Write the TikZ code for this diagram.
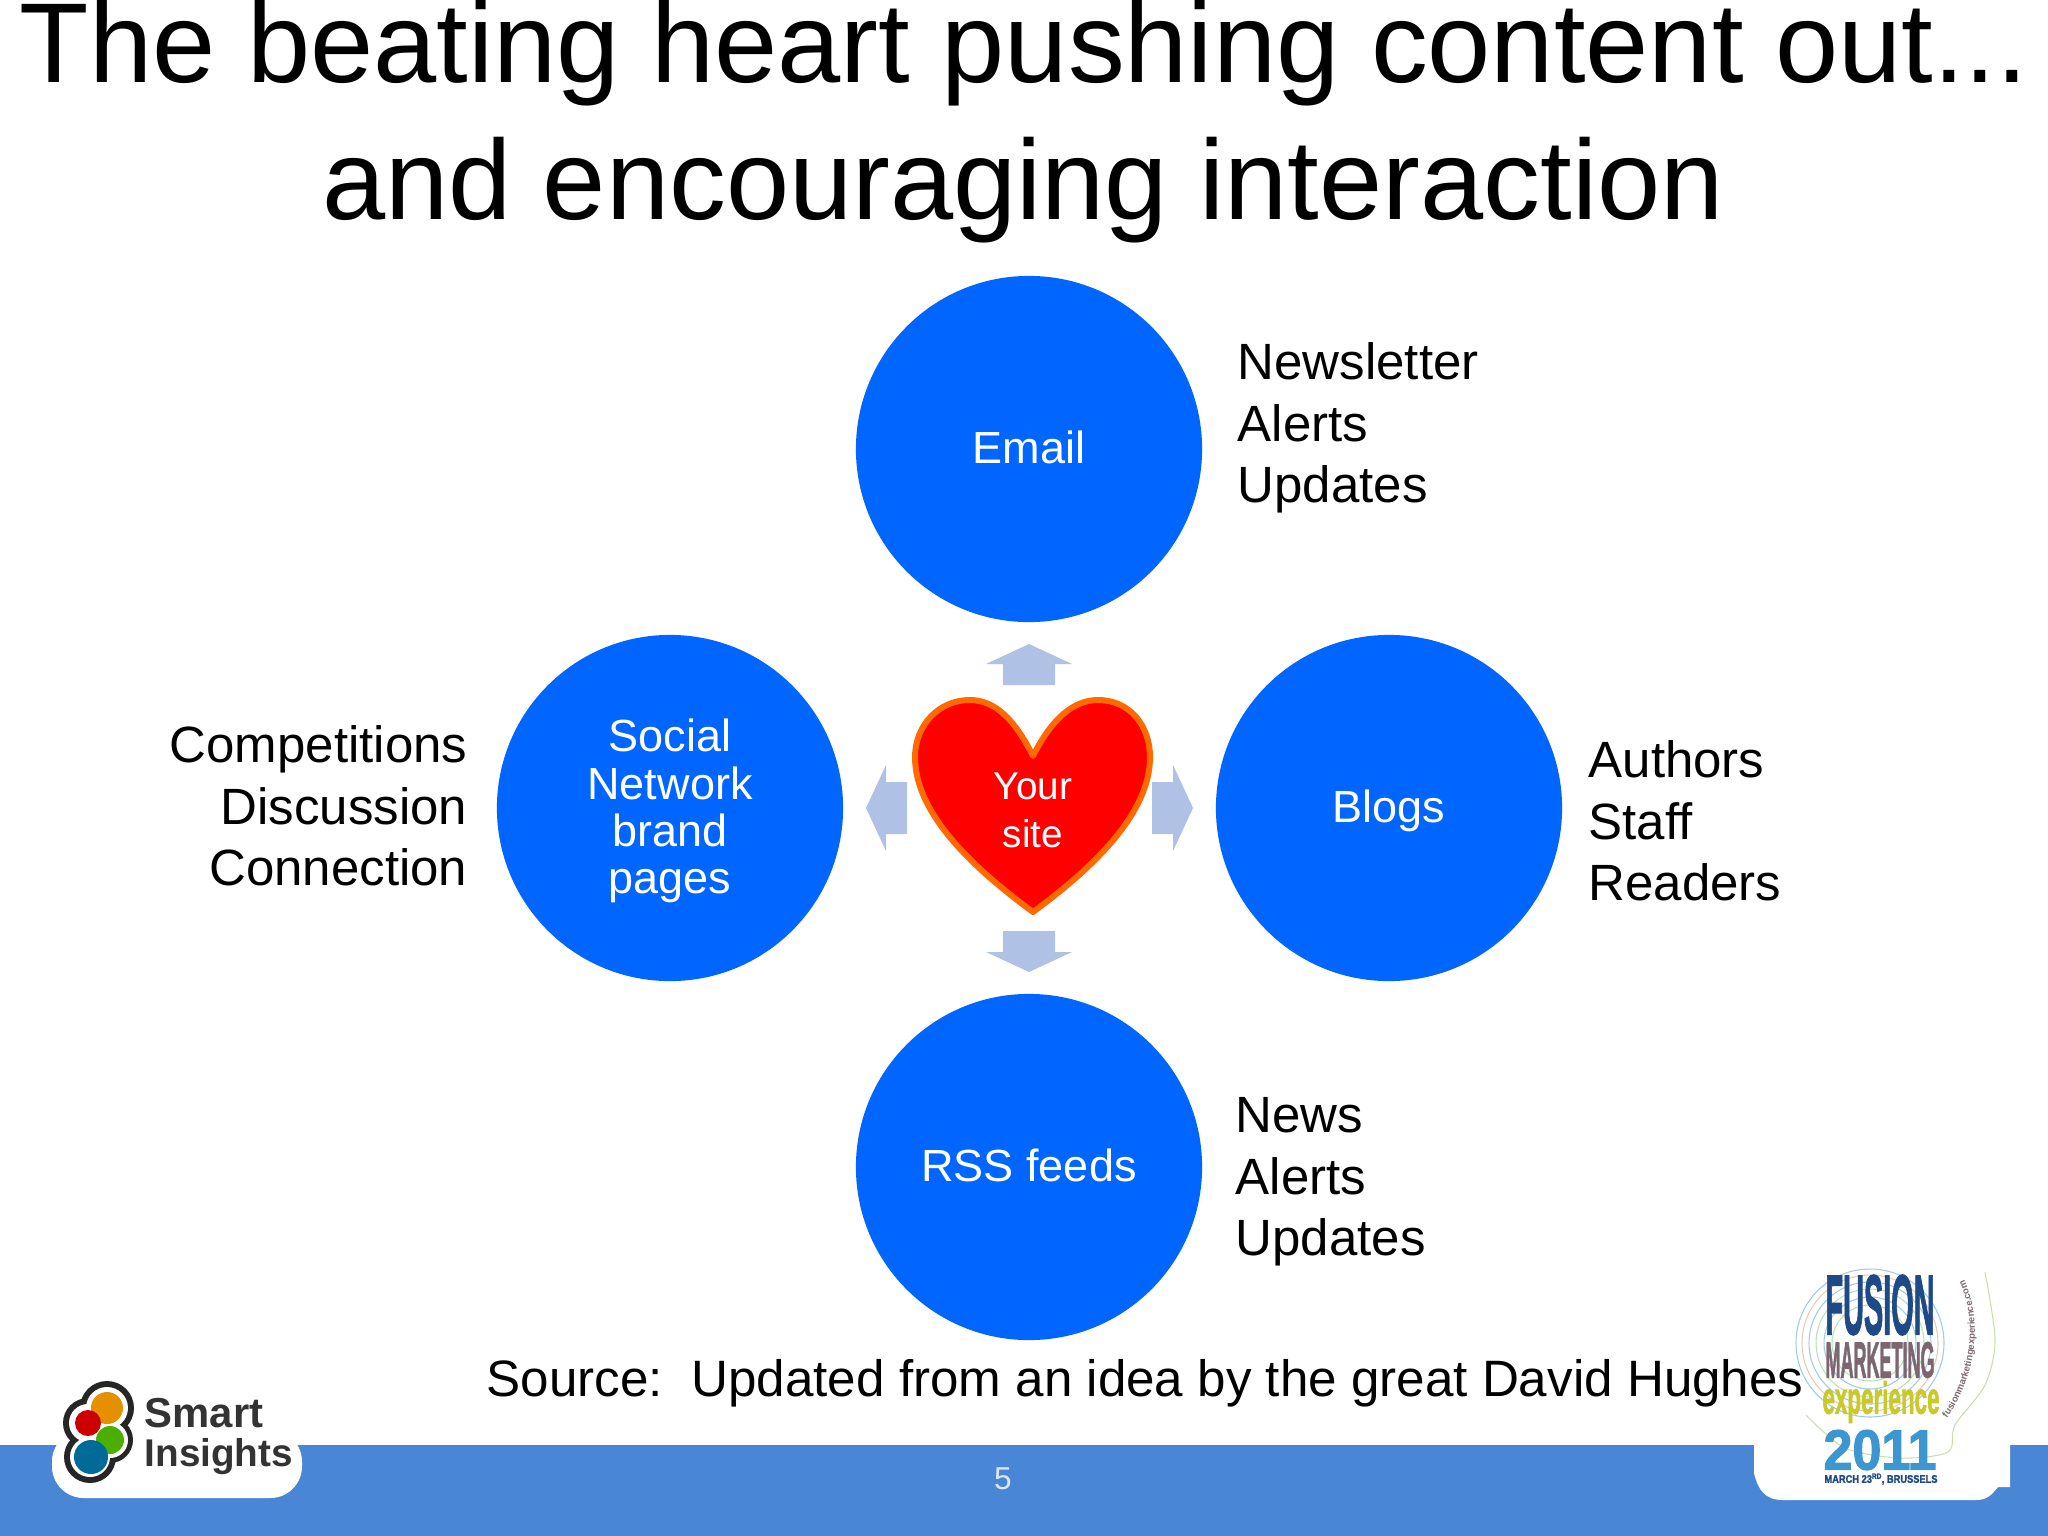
\documentclass[tikz,border=0pt]{standalone}
\usepackage{fontspec}
\setmainfont{Liberation Sans}
\newfontfamily\fusionfont[FakeBold=2]{Liberation Sans Bold}
\usetikzlibrary{decorations.text}
\definecolor{bubbleblue}{HTML}{0066FF}
\definecolor{barblue}{HTML}{4A86D6}
\definecolor{pushblue}{HTML}{B0C1E6}
\definecolor{heartline}{HTML}{FF6A00}
\definecolor{fusionnavy}{HTML}{1F4A86}
\definecolor{fusionmauve}{HTML}{7C6670}
\definecolor{fusionyellow}{HTML}{C9C92A}
\definecolor{fusionsky}{HTML}{3C97D0}
\tikzset{
  bubble/.style={circle, fill=bubbleblue, minimum size=3.46cm, inner sep=0pt, text=white, align=center, text depth=1pt, font=\fontsize{12.8}{13.4}\selectfont},
  sidelist/.style={font=\fontsize{14.5}{17.5}\selectfont, inner sep=0pt},
  pushshape/.style={fill=pushblue},
  logotext/.style={inner sep=0pt, font=\fusionfont},
  ring/.style={line width=0.3pt, opacity=0.4}
}
\newcommand{\squeezed}[3]{\resizebox*{#1cm}{#2cm}{#3}}
\begin{document}
\begin{tikzpicture}[x=0.01cm, y=-0.01cm]
  \useasboundingbox (0,0) rectangle (2048,1536);
  \fill[white] (0,0) rectangle (2048,1536);

  % title
  \node[anchor=base, inner sep=0pt, font=\fontsize{32.3}{38}\selectfont] (titleone) at (1024,82) {The beating heart pushing content out...};
  \node[anchor=base, inner sep=0pt, font=\fontsize{32.3}{38}\selectfont] (titletwo) at (1023,219) {and encouraging interaction};

  % footer bar with logo plates
  \fill[barblue] (0,1445) rectangle (2048,1536);
  \fill[white, rounded corners=9pt] (52,1430) -- (52,1498) -- (302,1498) -- (302,1430) -- cycle;
  \fill[white] (1754,1430) -- (1754,1473) .. controls (1758,1490) and (1765,1500) .. (1783,1500)
    -- (1976,1500) .. controls (1988,1500) and (1992,1494) .. (1998,1487) -- (2010,1487) -- (2010,1430) -- cycle;
  \node[text=white!80!barblue, font=\fontsize{9}{11}\selectfont, inner sep=0pt] (pagenum) at (1003,1479) {5};

  % four channels
  \node[bubble] (email) at (1029,449) {Email};
  \node[bubble] (blogs) at (1389,808) {Blogs};
  \node[bubble] (social) at (670,808) {Social\\Network\\brand\\pages};
  \node[bubble] (rss) at (1029,1167) {RSS feeds};

  \node[sidelist, anchor=west, align=left] (emaillist) at (1237,428) {Newsletter\\Alerts\\Updates};
  \node[sidelist, anchor=west, align=left] (bloglist) at (1588,821) {Authors\\Staff\\Readers};
  \node[sidelist, anchor=east, align=right] (sociallist) at (468,806) {Competitions\\Discussion\\Connection};
  \node[sidelist, anchor=west, align=left] (rsslist) at (1235,1182) {News\\Alerts\\Updates};

  % block arrows round the heart
  \foreach \x/\y/\r in {1029/685/90, 1029/931/-90, 907/808/180, 1152/808/0}
    \fill[pushshape, shift={(\x,\y)}, rotate=\r] (0,-26) -- (21,-26) -- (21,-43) -- (41,0) -- (21,43) -- (21,26) -- (0,26) -- cycle;

  % heart
  \draw[fill=red, draw=heartline, line width=1.7pt, line join=round]
    (1033,756) .. controls (1052,718) and (1074,700) .. (1098,700)
    .. controls (1130,700) and (1150,726) .. (1150,757)
    .. controls (1150,815) and (1090,870) .. (1033,912)
    .. controls (976,870) and (915,815) .. (915,757)
    .. controls (915,726) and (938,700) .. (970,700)
    .. controls (994,700) and (1014,718) .. (1033,756) -- cycle;
  \node[text=white, align=center, inner sep=0pt, font=\fontsize{11}{13.7}\selectfont] (heart) at (1033,810) {Your\\site};

  \node[anchor=base west, inner sep=0pt, font=\fontsize{14.55}{17}\selectfont] (source) at (486,1396) {Source:\ \ Updated from an idea by the great David Hughes};

  % smart insights logo
  \foreach \x/\y/\s in {107/1408/27, 88/1423/25, 110/1440/23, 90/1457/26}
    \fill[black!85] (\x,\y) circle (\s);
  \foreach \x/\y/\s in {107/1408/21, 88/1423/19, 110/1440/18, 90/1457/20}
    \fill[white] (\x,\y) circle (\s);
  \fill[orange!75!yellow!90!black] (107,1408) circle (16);
  \fill[green!55!black!70!yellow] (110,1440) circle (14);
  \fill[red!80!black] (88,1423) circle (13);
  \fill[blue!30!cyan!60!black] (91,1457) circle (17);
  \node[anchor=base west, inner sep=0pt, text=black!80, font=\fontsize{11.9}{14}\bfseries\selectfont] (smart) at (144,1427) {Smart};
  \node[anchor=base west, inner sep=0pt, text=black!80, font=\fontsize{11}{14}\bfseries\selectfont] (insights) at (144,1466) {Insights};

  % fusion logo
  \foreach \s/\c in {38/green!50!gray, 46/cyan!60!blue, 54/green!50!gray, 61/cyan!60!blue, 68/orange!50!gray, 74/cyan!60!blue}
    \draw[ring, draw=\c] (1870,1343) circle (\s);
  \draw[ring, draw=green!40!brown] plot[smooth] coordinates {(1806,1415) (1845,1448) (1900,1458) (1948,1452) (1955,1425) (1985,1385) (1995,1340) (1985,1272)};
  \node[logotext, text=fusionnavy] (fusion) at (1880,1305) {\squeezed{1.09}{0.60}{FUSION}};
  \node[logotext, text=fusionmauve] (marketing) at (1880,1360) {\squeezed{1.09}{0.36}{MARKETING}};
  \node[logotext, text=fusionyellow] (experience) at (1881,1402) {\squeezed{1.17}{0.42}{experience}};
  \node[logotext, text=fusionsky] (year) at (1880,1450) {\squeezed{1.13}{0.40}{2011}};
  \node[logotext, text=fusionnavy] (brussels) at (1881,1479) {\squeezed{1.13}{0.11}{MARCH 23\textsuperscript{RD}, BRUSSELS}};
  \draw[draw=none, postaction={decorate, decoration={text along path, text align=center, text={|\fontsize{2.7}{4}\bfseries\selectfont\color{fusionmauve}|fusionmarketingexperience.com}}}]
    (1947,1418) .. controls (1975,1380) and (1984,1320) .. (1964,1280);
\end{tikzpicture}
\end{document}
